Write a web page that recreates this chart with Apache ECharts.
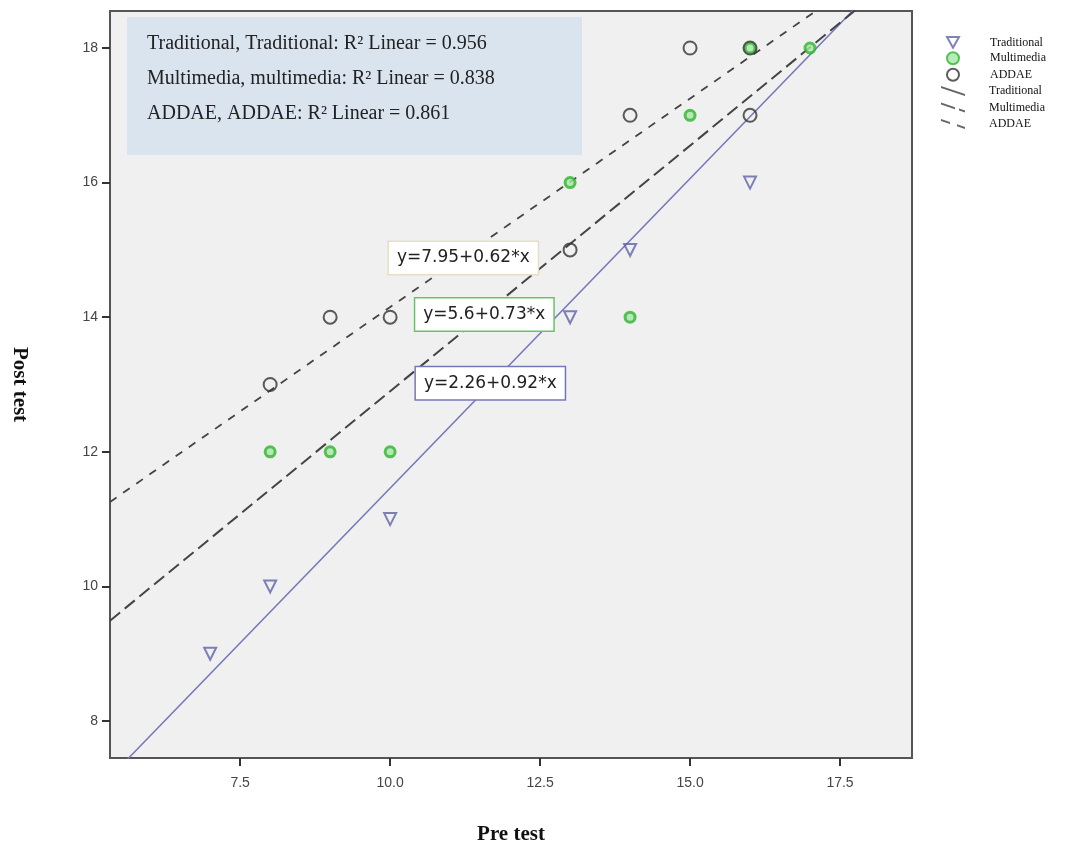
<!DOCTYPE html>
<html>
<head>
<meta charset="utf-8">
<script src="https://cdn.jsdelivr.net/npm/echarts@6/dist/echarts.min.js"></script>
<style>
html,body{margin:0;padding:0;background:#fff;}
#main{width:1073px;height:850px;}
</style>
</head>
<body>
<div id="main"></div>
<script>
// ---- data ----
const traditionalPoints = [[7,9],[8,10],[10,11],[13,14],[14,15],[16,16]];
const multimediaPoints = [[8,12],[9,12],[10,12],[13,16],[14,14],[15,17],[16,18],[17,18]];
const addaePoints = [[8,13],[9,14],[10,14],[13,15],[14,17],[15,18],[16,18],[16,17]];
const fitNames = ['Traditional','Multimedia','ADDAE'];
const fitIntercepts = [2.26, 5.6, 7.95];
const fitSlopes = [0.92, 0.73, 0.62];
const fitLabels = ['y=2.26+0.92*x','y=5.6+0.73*x','y=7.95+0.62*x'];
const fitLabelAnchors = [[11.67,13.02],[11.57,14.04],[11.22,14.88]];
const r2Lines = ['Traditional, Traditional: R\u00B2 Linear = 0.956','Multimedia, multimedia: R\u00B2 Linear = 0.838','ADDAE, ADDAE: R\u00B2 Linear = 0.861'];
const xTickValues = [7.5,10,12.5,15,17.5];
const xTickLabels = ['7.5','10.0','12.5','15.0','17.5'];
const yTickValues = [8,10,12,14,16,18];
const yTickLabels = ['8','10','12','14','16','18'];
const xRange = [5.33, 18.7];
const yRange = [7.45, 18.55];

// ---- styles ----
const fitColors = ['#7478b8','#444444','#444444'];
const fitDash = ['solid',[13,6],[8,8]];
const fitWidth = [1.5,2,1.8];
const labelBorders = ['#7478b8','#66c466','#e6dfc2'];
const legendLineIcons = [
  'path://M0,0 L24,8 L24,10 L0,2 Z',
  'path://M0,0 L14,4.7 L14,6.7 L0,2 Z M18,6 L24,8 L24,10 L18,8 Z',
  'path://M0,0 L9,3 L9,5 L0,2 Z M16,5.3 L24,8 L24,10 L16,7.3 Z'
];
const serif = '"Liberation Serif", "Times New Roman", serif';
const sans = '"Liberation Sans", Arial, sans-serif';

const chart = echarts.init(document.getElementById('main'));

const fitSeries = fitNames.map((n,i)=>({
  name: n + ' fit',
  type: 'line',
  symbol: 'none',
  clip: true,
  z: 2,
  lineStyle: {color: fitColors[i], width: fitWidth[i], type: fitDash[i]},
  itemStyle: {color: fitColors[i]},
  data: xRange.map(x => [x, fitIntercepts[i] + fitSlopes[i]*x]),
  markPoint: {
    symbol: 'rect', symbolSize: 1,
    itemStyle: {color: 'rgba(0,0,0,0)'},
    data: [{coord: fitLabelAnchors[i], value: fitLabels[i]}],
    label: {
      show: true, position: 'inside', formatter: fitLabels[i],
      color: '#222', fontFamily: '"DejaVu Sans", sans-serif', fontSize: 17,
      backgroundColor: '#ffffff', borderColor: labelBorders[i], borderWidth: 1.5,
      padding: [8,8,7,8]
    },
    z: 10
  }
}));

const legendText = {fontFamily: serif, fontSize: 12, color: '#111', lineHeight: 12};

const option = {
  animation: false,
  backgroundColor: '#ffffff',
  grid: {left: 110, top: 11, right: 161, bottom: 88, show: true,
    backgroundColor: '#f0f0f0', borderColor: '#555', borderWidth: 2},
  xAxis: {
    type: 'value', min: xRange[0], max: xRange[1],
    name: 'Pre test', nameLocation: 'middle', nameGap: 66,
    nameTextStyle: {fontFamily: serif, fontWeight: 'bold', fontSize: 21, color: '#111'},
    axisLine: {show: false},
    splitLine: {show: false},
    axisTick: {show: true, customValues: xTickValues, length: 8, inside: false, lineStyle: {color: '#333', width: 2}},
    axisLabel: {customValues: xTickValues, margin: 18, fontSize: 14, color: '#444',
      fontFamily: sans,
      formatter: v => xTickLabels[xTickValues.indexOf(v)] ?? ''}
  },
  yAxis: {
    type: 'value', min: yRange[0], max: yRange[1],
    name: 'Post test', nameLocation: 'middle', nameGap: 80, nameRotate: -90,
    nameTextStyle: {fontFamily: serif, fontWeight: 'bold', fontSize: 21, color: '#111'},
    axisLine: {show: false},
    splitLine: {show: false},
    axisTick: {show: true, customValues: yTickValues, length: 8, lineStyle: {color: '#333', width: 2}},
    axisLabel: {customValues: yTickValues, margin: 12, fontSize: 14, color: '#444',
      fontFamily: sans,
      formatter: v => yTickLabels[yTickValues.indexOf(v)] ?? ''}
  },
  legend: [
    {
      orient: 'vertical', left: 946, top: 36, padding: 0, itemGap: 2.5, itemWidth: 12, itemHeight: 12,
      textStyle: Object.assign({}, legendText, {padding: [0,0,0,26]}),
      data: [
        {name: 'Traditional', icon: 'path://M0,0 L10,0 L5,9 Z'},
        {name: 'Multimedia', icon: 'circle'},
        {name: 'ADDAE', icon: 'circle'}
      ]
    },
    {
      orient: 'vertical', left: 941, top: 85, padding: 0, itemGap: 4.5, itemWidth: 24, itemHeight: 12,
      textStyle: Object.assign({}, legendText, {padding: [0,0,0,19]}),
      formatter: n => n.replace(' fit',''),
      data: fitNames.map((n,i)=>({name: n + ' fit', icon: legendLineIcons[i], itemStyle: {color: '#666'}}))
    }
  ],
  graphic: [
    {type: 'rect', left: 127, top: 17, z: 5, shape: {width: 455, height: 138},
      style: {fill: '#dae4ef'}},
    {type: 'text', left: 147, top: 26, z: 6,
      style: {text: r2Lines.join('\n'), font: '20px "Liberation Serif", "Times New Roman", serif',
        fill: '#222', lineHeight: 35}}
  ],
  series: [
    ...fitSeries,
    {name: 'Traditional', type: 'scatter', symbol: 'triangle', symbolRotate: 180, symbolSize: 12, z: 4,
      itemStyle: {color: 'rgba(255,255,255,0)', borderColor: '#5f63a6', borderWidth: 2},
      data: traditionalPoints},
    {name: 'Multimedia', type: 'scatter', symbol: 'circle', symbolSize: 10, z: 4,
      itemStyle: {color: '#a8e6a8', borderColor: '#2fb52f', borderWidth: 3},
      data: multimediaPoints},
    {name: 'ADDAE', type: 'scatter', symbol: 'circle', symbolSize: 13, z: 4,
      itemStyle: {color: 'rgba(255,255,255,0)', borderColor: '#333', borderWidth: 2},
      data: addaePoints}
  ]
};
chart.setOption(option);
</script>
</body>
</html>
